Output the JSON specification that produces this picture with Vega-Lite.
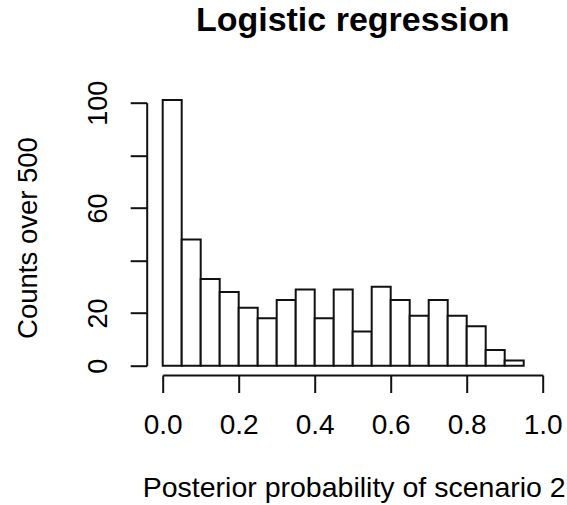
{
  "$schema": "https://vega.github.io/schema/vega-lite/v6.json",
  "width": 380,
  "height": 263,
  "autosize": {"type": "none"},
  "padding": {"left": 162.7, "top": 102.7, "right": 24.3, "bottom": 139.3},
  "background": "white",
  "title": {
    "text": "Logistic regression",
    "font": "Liberation Sans",
    "fontSize": 34,
    "fontWeight": "bold",
    "color": "black",
    "anchor": "middle",
    "frame": "group",
    "baseline": "alphabetic",
    "offset": 15
  },
  "data": {
    "values": [
      {"bin_start": 0.00, "bin_end": 0.05, "count": 101},
      {"bin_start": 0.05, "bin_end": 0.10, "count": 48},
      {"bin_start": 0.10, "bin_end": 0.15, "count": 33},
      {"bin_start": 0.15, "bin_end": 0.20, "count": 28},
      {"bin_start": 0.20, "bin_end": 0.25, "count": 22},
      {"bin_start": 0.25, "bin_end": 0.30, "count": 18},
      {"bin_start": 0.30, "bin_end": 0.35, "count": 25},
      {"bin_start": 0.35, "bin_end": 0.40, "count": 29},
      {"bin_start": 0.40, "bin_end": 0.45, "count": 18},
      {"bin_start": 0.45, "bin_end": 0.50, "count": 29},
      {"bin_start": 0.50, "bin_end": 0.55, "count": 13},
      {"bin_start": 0.55, "bin_end": 0.60, "count": 30},
      {"bin_start": 0.60, "bin_end": 0.65, "count": 25},
      {"bin_start": 0.65, "bin_end": 0.70, "count": 19},
      {"bin_start": 0.70, "bin_end": 0.75, "count": 25},
      {"bin_start": 0.75, "bin_end": 0.80, "count": 19},
      {"bin_start": 0.80, "bin_end": 0.85, "count": 15},
      {"bin_start": 0.85, "bin_end": 0.90, "count": 6},
      {"bin_start": 0.90, "bin_end": 0.95, "count": 2}
    ]
  },
  "mark": {"type": "bar", "fill": "white", "stroke": "#111111", "strokeWidth": 2, "clip": false},
  "encoding": {
    "x": {
      "field": "bin_start",
      "type": "quantitative",
      "scale": {"domain": [0, 1], "nice": false, "zero": false},
      "axis": {
        "orient": "bottom",
        "offset": 9.3,
        "values": [0, 0.2, 0.4, 0.6, 0.8, 1.0],
        "format": ".1f",
        "grid": false,
        "domainColor": "#111111",
        "domainWidth": 2,
        "tickColor": "#111111",
        "tickWidth": 2,
        "tickSize": 17.5,
        "labelFont": "Liberation Sans",
        "labelFontSize": 28,
        "labelColor": "black",
        "labelPadding": 19,
        "labelFlush": false,
        "labelOverlap": false,
        "title": "Posterior probability of scenario 2",
        "titleFont": "Liberation Sans",
        "titleFontSize": 28.5,
        "titleFontWeight": "normal",
        "titleColor": "black",
        "titleAlign": "center",
        "titleBaseline": "alphabetic",
        "titleX": 191,
        "titleY": 121.7
      }
    },
    "x2": {"field": "bin_end"},
    "y": {
      "field": "count",
      "type": "quantitative",
      "scale": {"domain": [0, 100], "nice": false},
      "axis": {
        "orient": "left",
        "offset": 16,
        "values": [0, 20, 40, 60, 80, 100],
        "labelExpr": "datum.value == 40 || datum.value == 80 ? '' : datum.label",
        "grid": false,
        "domainColor": "#111111",
        "domainWidth": 2,
        "tickColor": "#111111",
        "tickWidth": 2,
        "tickSize": 16.5,
        "labelFont": "Liberation Sans",
        "labelFontSize": 27,
        "labelColor": "black",
        "labelAngle": 270,
        "labelAlign": "center",
        "labelBaseline": "bottom",
        "labelPadding": 18,
        "labelFlush": false,
        "labelOverlap": false,
        "title": "Counts over 500",
        "titleFont": "Liberation Sans",
        "titleFontSize": 27.5,
        "titleFontWeight": "normal",
        "titleColor": "black",
        "titleAngle": 270,
        "titleAlign": "center",
        "titleBaseline": "alphabetic",
        "titleX": -110,
        "titleY": 134.8
      }
    },
    "y2": {"datum": 0}
  },
  "config": {"view": {"stroke": null}}
}
